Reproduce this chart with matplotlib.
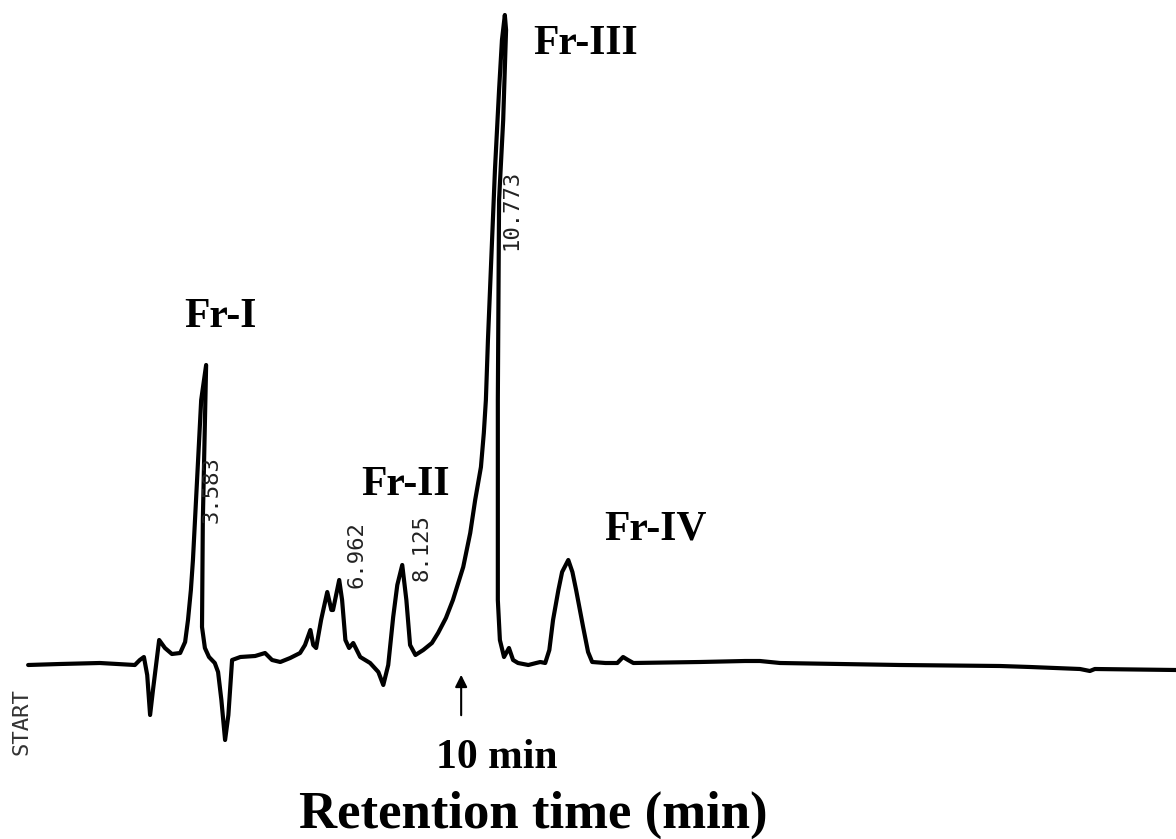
import matplotlib
matplotlib.use('Agg')
import matplotlib.pyplot as plt

# chromatogram trace: retention time (min) and detector signal (a.u.)
time = [-0.71, 0.06, 1.03, 1.88, 2.00, 2.10, 2.18, 2.25, 2.32, 2.47, 2.61, 2.78, 2.98,
        3.10, 3.17, 3.24, 3.29, 3.39, 3.49, 3.61, 3.53, 3.51, 3.58, 3.68, 3.82, 3.90,
        3.98, 4.07, 4.15, 4.24, 4.44, 4.80, 5.04, 5.21, 5.41, 5.65, 5.89, 6.01, 6.14,
        6.21, 6.28, 6.40, 6.55, 6.65, 6.69, 6.84, 6.91, 6.99, 7.08, 7.18, 7.35, 7.59,
        7.79, 7.91, 8.03, 8.15, 8.25, 8.37, 8.47, 8.56, 8.69, 8.88, 9.09, 9.24, 9.43,
        9.60, 9.85, 10.02, 10.14, 10.28, 10.35, 10.40, 10.45, 10.50, 10.54, 10.62,
        10.72, 10.79, 10.86, 10.89, 10.82, 10.72, 10.69, 10.69, 10.74, 10.84, 10.96,
        11.06, 11.18, 11.43, 11.62, 11.72, 11.84, 11.94, 12.03, 12.16, 12.25, 12.40,
        12.50, 12.59, 12.76, 12.88, 12.98, 13.30, 13.59, 13.73, 13.85, 13.98, 15.60,
        16.69, 17.05, 17.54, 20.45, 22.88, 23.61, 24.82, 25.06, 25.18, 27.15]
signal = [-3, -2, -1, -3, 2, 5, -13, -53, -28, 22, 14, 8, 9,
          20, 42, 72, 102, 182, 262, 297, 142, 35, 14, 5, -1, -10,
          -38, -78, -53, 2, 5, 6, 9, 2, 0, 4, 9, 17, 32,
          17, 14, 42, 70, 52, 52, 82, 62, 22, 14, 19, 5, -1,
          -10, -23, -3, 45, 77, 97, 62, 17, 7, 12, 19, 29, 44,
          62, 95, 129, 162, 195, 229, 262, 322, 372, 412, 492,
          572, 622, 647, 632, 542, 462, 262, 62, 22, 5, 14,
          2, -1, -3, -1, 0, -1, 12, 42, 72, 90, 102,
          90, 72, 35, 10, 0, -1, -1, 5, 2, -1, 0,
          1, 1, -1, -3, -4, -5, -7, -9, -7, -8]

# fraction labels and integrator retention-time prints
fractions = ['Fr-I', 'Fr-II', 'Fr-III', 'Fr-IV']
frac_t = [3.95, 8.44, 12.81, 14.51]
frac_s = [345, 177, 618, 132]

rt_labels = ['3.583', '6.962', '8.125', '10.773']
rt_t = [3.73, 7.25, 8.83, 11.03]
rt_s = [172, 107, 114, 452]

arrow_t = 9.8

fig = plt.figure(figsize=(11.76, 8.39), dpi=100)
ax = fig.add_axes([0, 0, 1, 1])
ax.set_xlim(-1.393, 27.15)
ax.set_ylim(-177, 662)
ax.axis('off')

ax.plot(time, signal, color='black', lw=3.0, solid_joinstyle='round', solid_capstyle='round')

serif = ['Liberation Serif', 'DejaVu Serif']
for name, t, s in zip(fractions, frac_t, frac_s):
    ax.text(t, s, name, fontsize=30, fontweight='bold', family=serif, ha='center', va='center')

for lab, t, s in zip(rt_labels, rt_t, rt_s):
    ax.text(t, s, lab, fontsize=16, family='DejaVu Sans Mono', rotation=90,
            ha='center', va='center', color='#222222')

ax.text(-0.86, -60, 'START', fontsize=16, family='DejaVu Sans Mono', rotation=90,
        ha='center', va='center', color='#333333')

ax.annotate('', xy=(arrow_t, -10), xytext=(arrow_t, -56),
            arrowprops=dict(arrowstyle='-|>', color='black', lw=1.5, mutation_scale=18))
ax.text(10.67, -96, '10 min', fontsize=30, fontweight='bold', family=serif, ha='center', va='center')
ax.text(11.55, -153, 'Retention time (min)', fontsize=38, fontweight='bold', family=serif,
        ha='center', va='center')

fig.savefig('out.png', dpi=100)
